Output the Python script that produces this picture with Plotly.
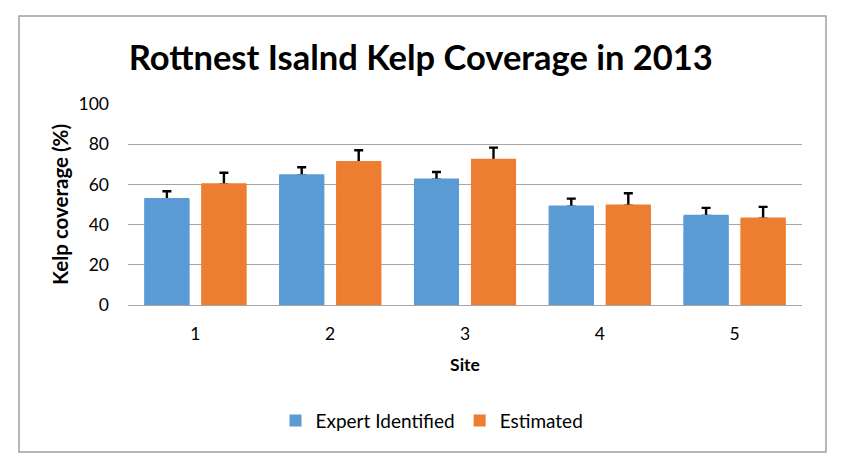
import plotly.graph_objects as go

sites = ["1", "2", "3", "4", "5"]
expert = [52.6, 64.5, 62.3, 48.9, 44.3]
expert_err = [4.0, 4.0, 3.9, 4.0, 4.0]
estimated = [60.0, 71.0, 72.1, 49.4, 42.9]
estimated_err = [5.8, 6.0, 6.2, 6.2, 5.9]
y_ticks = [0, 20, 40, 60, 80, 100]

FONT = "Lato, Carlito, Calibri, 'Open Sans', sans-serif"
BLUE = "#5b9bd5"
ORANGE = "#ed7d31"
COVER = 0.6  # lift of the covering bar so the lower error cap is hidden


def add_series(name, vals, errs, color, group):
    # bar carrying the error bars (upper half only)
    fig.add_trace(go.Bar(
        x=sites, y=vals, name=name, offsetgroup=group, showlegend=False,
        marker=dict(color=color, line=dict(width=0)), hoverinfo="skip",
        error_y=dict(type="data", array=errs, symmetric=False, arrayminus=[0] * len(vals),
                     color="black", thickness=2.4, width=4.5),
    ))
    # same bar drawn on top to hide the lower cap of the error bar
    fig.add_trace(go.Bar(
        x=sites, y=[v + COVER for v in vals], name=name, offsetgroup=group,
        marker=dict(color=color, line=dict(width=0)),
    ))


fig = go.Figure()
add_series("Expert Identified", expert, expert_err, BLUE, "exp")
add_series("Estimated", estimated, estimated_err, ORANGE, "est")

fig.update_layout(
    width=857, height=473,
    margin=dict(l=128, r=55, t=104, b=168),
    paper_bgcolor="white", plot_bgcolor="white",
    font=dict(family=FONT, size=17.5, color="black"),
    barmode="group", bargap=0.154, bargroupgap=0.21,
    title=dict(text="<b>Rottnest Isalnd Kelp Coverage in 2013</b>",
               font=dict(family=FONT, size=34.5, color="black"),
               x=0.491, xanchor="center", y=1 - 58 / 473, yanchor="middle", yref="container"),
    showlegend=True,
    legend=dict(orientation="h", x=(432 - 128) / 674, xanchor="center", y=-0.575, yanchor="middle",
                font=dict(family=FONT, size=19, color="black"), itemwidth=30,
                traceorder="normal"),
    xaxis=dict(showgrid=False, showline=True, linecolor="#a6a6a6", linewidth=1,
               ticks="", tickfont=dict(size=17.5), ticklabelstandoff=13,
               title=dict(text="<b>Site</b>", font=dict(size=17.5), standoff=15)),
    yaxis=dict(range=[0, 100], tickvals=y_ticks, showgrid=True, gridcolor="#a6a6a6",
               gridwidth=1, zeroline=False, showline=False, ticks="",
               tickfont=dict(size=17.5), ticklabelstandoff=18,
               title=dict(text="<b>Kelp coverage (%)</b>", font=dict(size=20.5), standoff=4)),
)

fig.add_shape(type="rect", xref="paper", yref="paper",
              x0=(19 - 128) / 674, x1=(826 - 128) / 674,
              y0=(305 - 452) / 201, y1=(305 - 16) / 201,
              line=dict(color="#a0a0a0", width=1.5), fillcolor="rgba(0,0,0,0)", layer="below")

fig.write_html("out.html")
